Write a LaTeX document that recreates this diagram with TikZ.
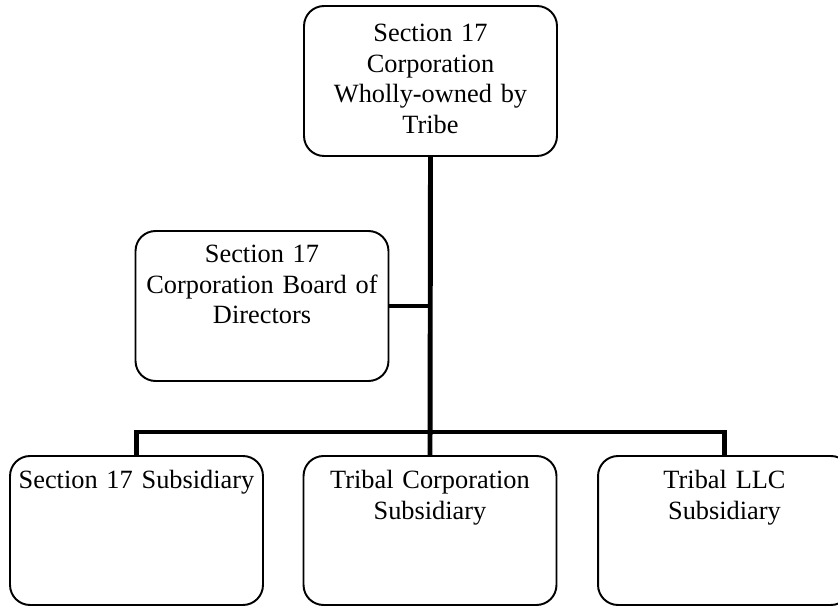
\documentclass[tikz,border=0pt]{standalone}
\usepackage{fontspec}
\setmainfont{Liberation Serif}
\tikzset{
  orgbox/.style={draw, line width=1.1pt, rounded corners=0.4cm, minimum width=5.06cm, minimum height=3cm, inner sep=0pt},
  orgtext/.style={anchor=north, text width=4.9cm, align=center, inner sep=0pt, font=\fontsize{15}{17.3}\selectfont},
  conn/.style={line width=2.8pt}
}
\begin{document}
\begin{tikzpicture}[x=0.02cm, y=-0.02cm]
        \useasboundingbox (0,0) rectangle (838,607);
        \clip (0,0) rectangle (838,607);

        % Boxes
        \node[orgbox] (corp) at (430.5,81) {};
        \node[orgbox] (board) at (262,306) {};
        \node[orgbox, minimum height=2.98cm] (sub) at (136.5,530.5) {};
        \node[orgbox, minimum height=2.98cm] (tcorp) at (430,530.5) {};
        \node[orgbox, minimum height=2.98cm] (llc) at (724.5,530.5) {};

        % Texts (top of the boxes)
        \node[orgtext] (corptxt) at ([yshift=-0.38cm]corp.north) {Section 17 \\ Corporation \\ Wholly-owned by \\ Tribe};
        \node[orgtext] (boardtxt) at ([yshift=-0.3cm]board.north) {Section 17 \\ Corporation Board of \\ Directors};
        \node[orgtext] (subtxt) at ([yshift=-0.3cm]sub.north) {Section 17 Subsidiary};
        \node[orgtext] (tcorptxt) at ([yshift=-0.3cm]tcorp.north) {Tribal Corporation \\ Subsidiary};
        \node[orgtext] (llctxt) at ([yshift=-0.3cm]llc.north) {Tribal LLC \\ Subsidiary};

        % Lines
        \coordinate (bar) at (430,432);
        \draw[conn] (corp.south) -- (tcorp.north); % Hovedstreg
        \draw[conn] (board.east) -- (board.east -| corp.south); % Bestyrelse
        \draw[conn] (sub.north) |- (bar) -| (llc.north); % Tværstreg
\end{tikzpicture}
\end{document}
